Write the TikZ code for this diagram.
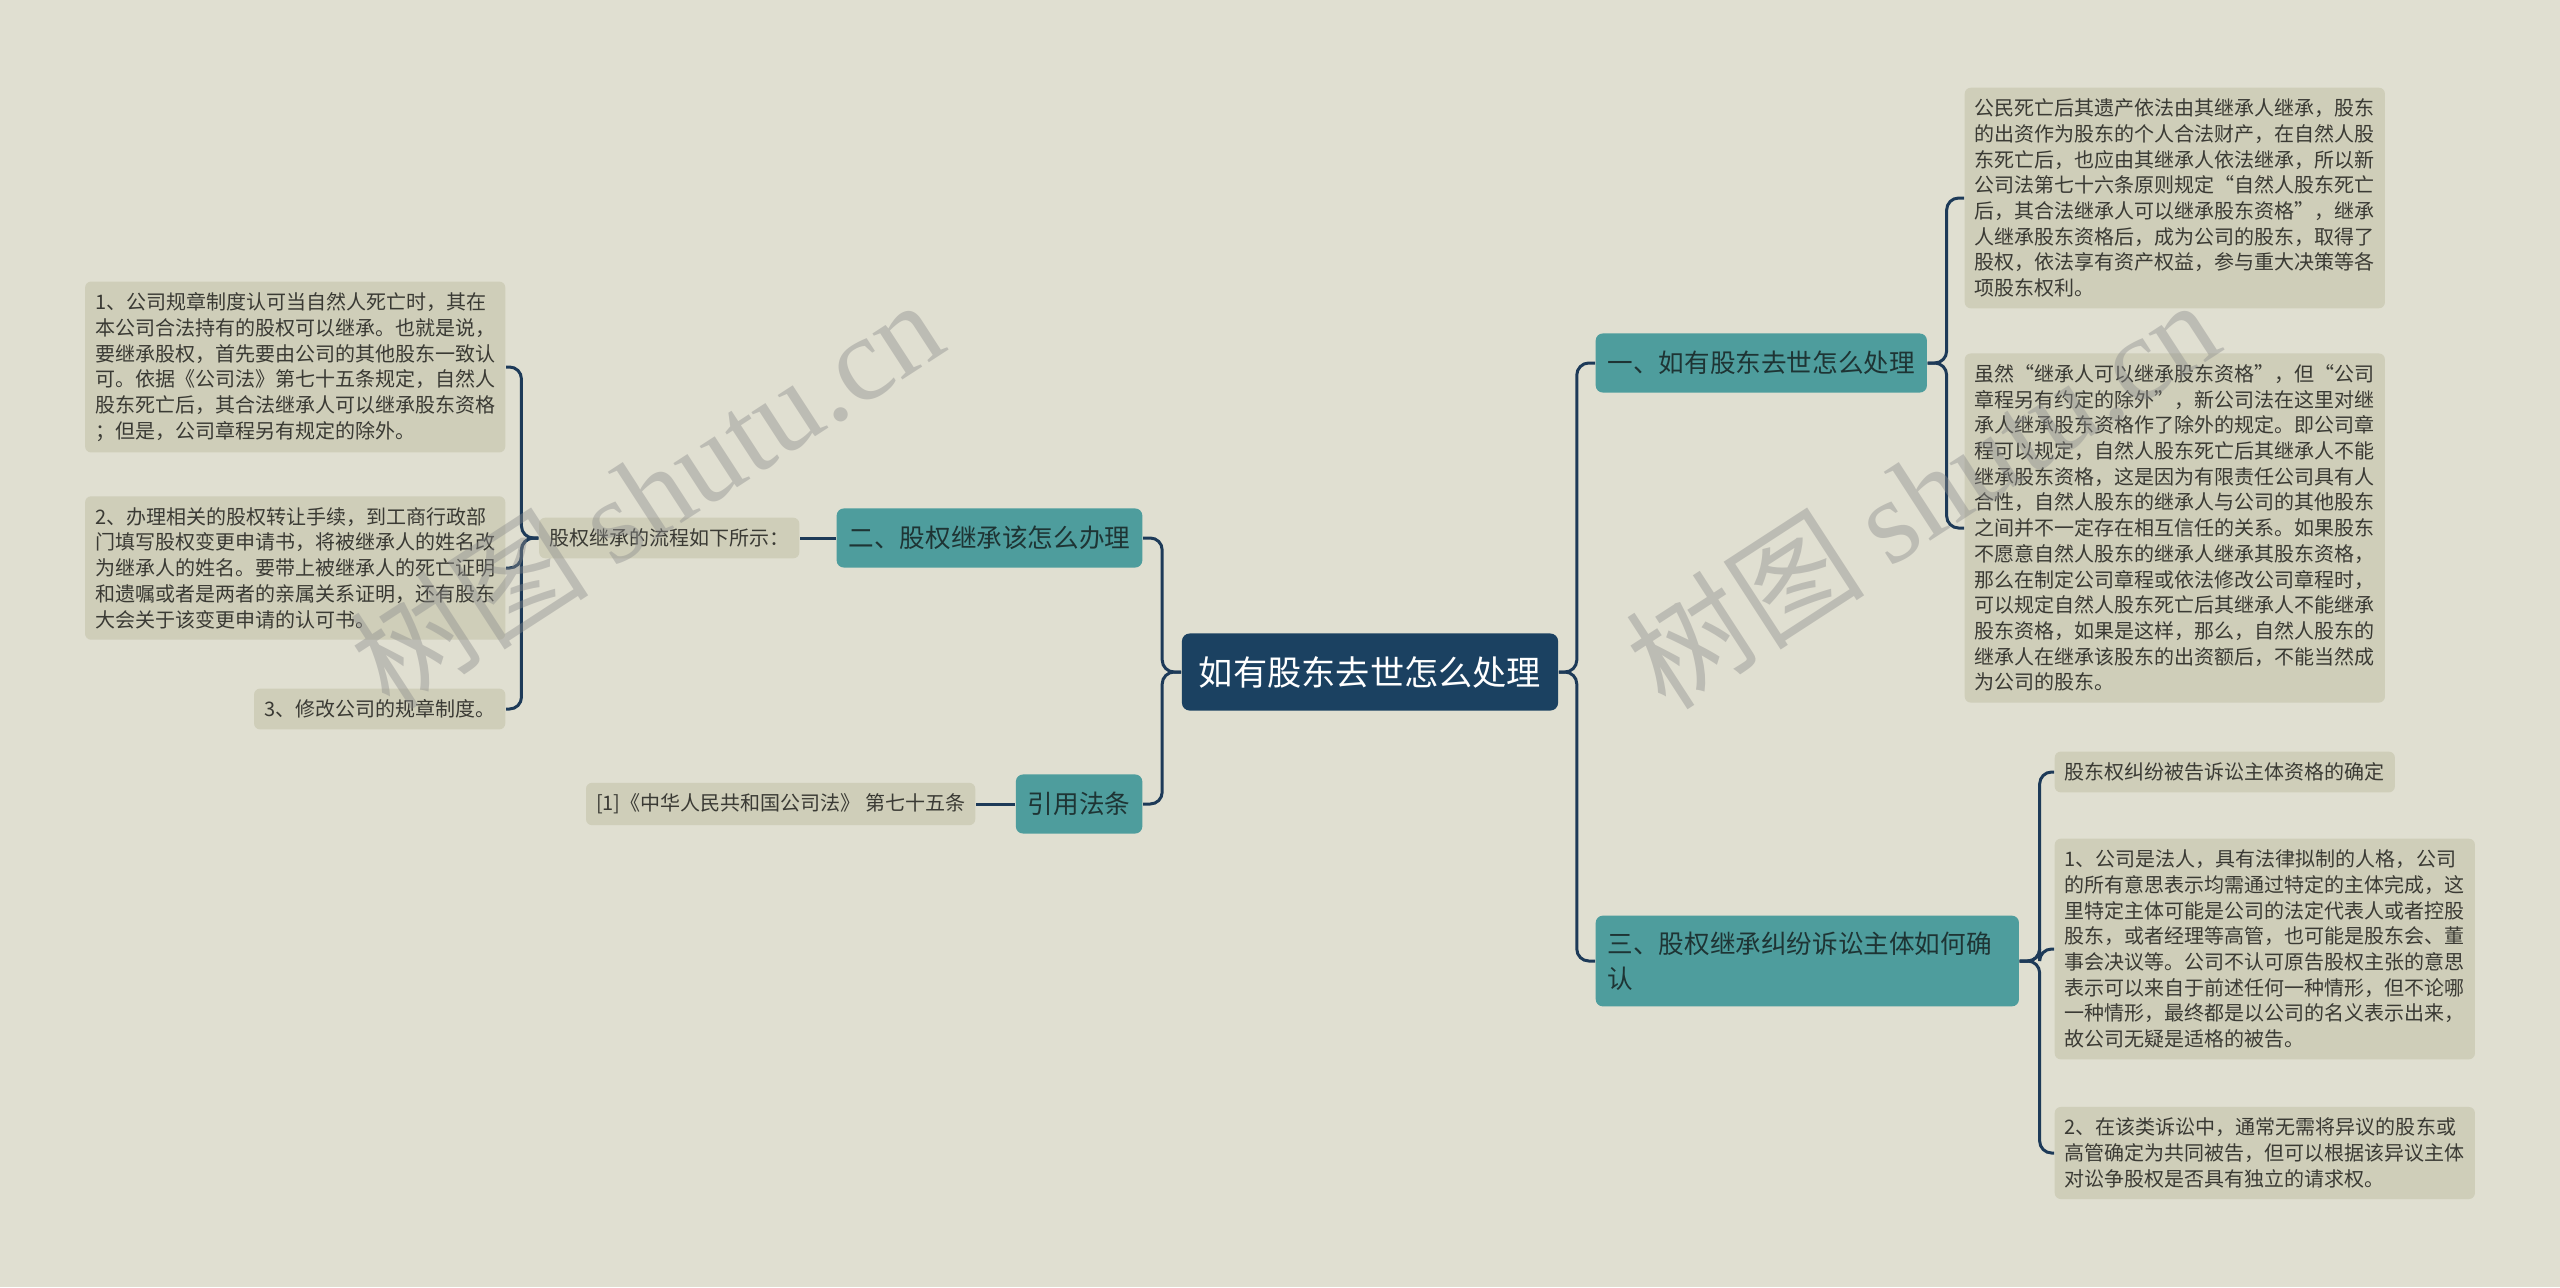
\documentclass[tikz,border=0pt]{standalone}
\usepackage{fontspec}
\setmainfont{Noto Sans CJK SC}
\newfontfamily\wmserif{Liberation Serif}
\usetikzlibrary{positioning}

\definecolor{paper}{HTML}{E0DFD1}
\definecolor{leaffill}{HTML}{CFCEB9}
\definecolor{leaftext}{HTML}{3A3A34}
\definecolor{branchfill}{HTML}{4E9D9D}
\definecolor{branchtext}{HTML}{1E3434}
\definecolor{rootfill}{HTML}{1B4161}
\definecolor{linkcol}{HTML}{1D3A58}

\begin{document}
\begin{tikzpicture}[x=0.01cm,y=-0.01cm,
  leaf/.style={fill=leaffill,text=leaftext,rounded corners=1.7pt,
    inner xsep=0.1cm,inner ysep=0.11cm,align=left,
    font=\fontsize{5.69pt}{7.31pt}\selectfont},
  branch/.style={fill=branchfill,text=branchtext,rounded corners=2pt,
    inner xsep=0.12cm,inner ysep=0.16cm,minimum height=0.59cm,align=left,
    font=\fontsize{7.28pt}{9.96pt}\selectfont},
  rootbox/.style={fill=rootfill,text=white,rounded corners=2.2pt,
    inner xsep=0.17cm,minimum height=0.77cm,
    font=\fontsize{9.73pt}{12pt}\selectfont},
  link/.style={draw=linkcol,line width=0.85pt,rounded corners=3.4pt},
  wmark/.style={text=black!45,opacity=0.42,rotate=33,
    font=\fontsize{34pt}{38pt}\selectfont}]

\path[use as bounding box,fill=paper] (0,0) rectangle (2560,1287);

% centre
\node[rootbox] (root) at (1370,672) {如有股东去世怎么处理};

% right half
\node[branch,anchor=west] (b1) at (1595,363) {一、如有股东去世怎么处理};
\node[branch,anchor=west,text width=3.99cm] (b3) at (1595,961)
  {三、股权继承纠纷诉讼主体如何确\\认};

\node[leaf,anchor=west] (r11) at (1964,198) {公民死亡后其遗产依法由其继承人继承，股东\\
的出资作为股东的个人合法财产，在自然人股\\
东死亡后，也应由其继承人依法继承，所以新\\
公司法第七十六条原则规定“自然人股东死亡\\
后，其合法继承人可以继承股东资格”，继承\\
人继承股东资格后，成为公司的股东，取得了\\
股权，依法享有资产权益，参与重大决策等各\\
项股东权利。};
\node[leaf,anchor=west] (r12) at (1964,528) {虽然“继承人可以继承股东资格”，但“公司\\
章程另有约定的除外”，新公司法在这里对继\\
承人继承股东资格作了除外的规定。即公司章\\
程可以规定，自然人股东死亡后其继承人不能\\
继承股东资格，这是因为有限责任公司具有人\\
合性，自然人股东的继承人与公司的其他股东\\
之间并不一定存在相互信任的关系。如果股东\\
不愿意自然人股东的继承人继承其股东资格，\\
那么在制定公司章程或依法修改公司章程时，\\
可以规定自然人股东死亡后其继承人不能继承\\
股东资格，如果是这样，那么，自然人股东的\\
继承人在继承该股东的出资额后，不能当然成\\
为公司的股东。};

\node[leaf,anchor=west] (r31) at (2054,772) {股东权纠纷被告诉讼主体资格的确定};
\node[leaf,anchor=west] (r32) at (2054,949) {1、公司是法人，具有法律拟制的人格，公司\\
的所有意思表示均需通过特定的主体完成，这\\
里特定主体可能是公司的法定代表人或者控股\\
股东，或者经理等高管，也可能是股东会、董\\
事会决议等。公司不认可原告股权主张的意思\\
表示可以来自于前述任何一种情形，但不论哪\\
一种情形，最终都是以公司的名义表示出来，\\
故公司无疑是适格的被告。};
\node[leaf,anchor=west] (r33) at (2054,1153) {2、在该类诉讼中，通常无需将异议的股东或\\
高管确定为共同被告，但可以根据该异议主体\\
对讼争股权是否具有独立的请求权。};

% left half
\node[branch,anchor=east] (b2) at (1143,538) {二、股权继承该怎么办理};
\node[branch,anchor=east] (b4) at (1143,804) {引用法条};

\node[leaf,anchor=east] (l21) at (800,538) {股权继承的流程如下所示：};
\node[leaf,anchor=east] (l41) at (976,804) {[1]《中华人民共和国公司法》 第七十五条};

\node[leaf,anchor=east] (l211) at (506,367) {1、公司规章制度认可当自然人死亡时，其在\\
本公司合法持有的股权可以继承。也就是说，\\
要继承股权，首先要由公司的其他股东一致认\\
可。依据《公司法》第七十五条规定，自然人\\
股东死亡后，其合法继承人可以继承股东资格\\
；但是，公司章程另有规定的除外。};
\node[leaf,anchor=east] (l212) at (506,568) {2、办理相关的股权转让手续，到工商行政部\\
门填写股权变更申请书，将被继承人的姓名改\\
为继承人的姓名。要带上被继承人的死亡证明\\
和遗嘱或者是两者的亲属关系证明，还有股东\\
大会关于该变更申请的认可书。};
\node[leaf,anchor=east] (l213) at (506,709) {3、修改公司的规章制度。};

% connectors
\draw[link] (root.east) -- ++(18,0) |- (b1.west);
\draw[link] (root.east) -- ++(18,0) |- (b3.west);
\draw[link] (root.west) -- ++(-19,0) |- (b2.east);
\draw[link] (root.west) -- ++(-19,0) |- (b4.east);
\foreach \n in {r11,r12}
  \draw[link] (b1.east) -- ++(19,0) |- (\n.west);
\foreach \n in {r31,r32,r33}
  \draw[link] (b3.east) -- ++(20,0) |- (\n.west);
\draw[link] (b2.west) -- (l21.east);
\draw[link] (b4.west) -- (l41.east);
\foreach \n in {l211,l212,l213}
  \draw[link] (l21.west) -- ++(-17,0) |- (\n.east);

% watermarks
\node[wmark] (wm1) at (646,493) {树图 {\wmserif shutu.cn}};
\node[wmark] (wm2) at (1922,493) {树图 {\wmserif shutu.cn}};

\end{tikzpicture}
\end{document}
